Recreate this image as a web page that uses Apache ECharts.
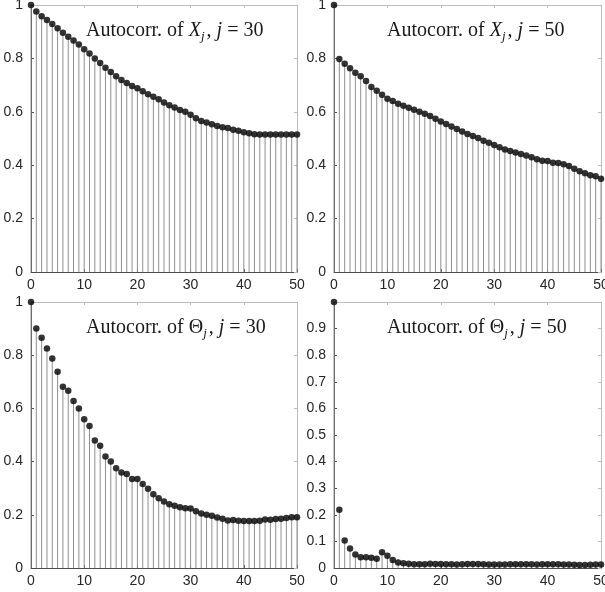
<!DOCTYPE html>
<html>
<head>
<meta charset="utf-8">
<script src="https://cdn.jsdelivr.net/npm/echarts@6/dist/echarts.min.js"></script>
<style>
html,body{margin:0;padding:0;background:#fff;}
#chart{width:605px;height:592px;}
</style>
</head>
<body>
<div id="chart"></div>
<script>
// ---- data ----
const lags = [0,1,2,3,4,5,6,7,8,9,10,11,12,13,14,15,16,17,18,19,20,21,22,23,24,25,26,27,28,29,30,31,32,33,34,35,36,37,38,39,40,41,42,43,44,45,46,47,48,49,50];

const acfX30 = [1.0,0.976,0.958,0.944,0.929,0.913,0.896,0.881,0.867,0.852,0.834,0.818,0.800,0.783,0.765,0.749,0.733,0.719,0.708,0.697,0.688,0.677,0.666,0.656,0.647,0.635,0.625,0.616,0.607,0.600,0.589,0.576,0.566,0.560,0.553,0.547,0.542,0.539,0.533,0.529,0.523,0.520,0.516,0.515,0.515,0.515,0.515,0.515,0.515,0.515,0.515];

const acfX50 = [1.0,0.798,0.780,0.763,0.746,0.733,0.715,0.693,0.679,0.664,0.649,0.640,0.630,0.623,0.615,0.608,0.600,0.593,0.584,0.574,0.564,0.554,0.545,0.536,0.526,0.517,0.509,0.502,0.492,0.484,0.476,0.467,0.459,0.453,0.448,0.442,0.436,0.430,0.422,0.417,0.416,0.409,0.408,0.404,0.397,0.387,0.377,0.370,0.362,0.359,0.349];

const acfT30 = [1.0,0.900,0.866,0.825,0.788,0.738,0.681,0.666,0.628,0.600,0.559,0.534,0.479,0.460,0.419,0.400,0.375,0.359,0.353,0.335,0.335,0.316,0.298,0.277,0.262,0.250,0.240,0.234,0.228,0.225,0.224,0.213,0.205,0.200,0.196,0.190,0.185,0.179,0.180,0.178,0.177,0.177,0.177,0.178,0.182,0.181,0.184,0.185,0.188,0.191,0.191];

const acfT50 = [1.0,0.219,0.103,0.073,0.051,0.040,0.040,0.039,0.035,0.059,0.046,0.030,0.021,0.018,0.016,0.014,0.014,0.014,0.016,0.015,0.015,0.014,0.014,0.013,0.014,0.015,0.015,0.015,0.014,0.013,0.013,0.013,0.013,0.014,0.014,0.014,0.014,0.014,0.013,0.014,0.014,0.014,0.014,0.013,0.013,0.012,0.011,0.011,0.012,0.013,0.013];

const panelTitles = [
  'Autocorr. of {it|X}{sub|j}, {it|j} = 30',
  'Autocorr. of {it|X}{sub|j}, {it|j} = 50',
  'Autocorr. of Θ{sub|j}, {it|j} = 30',
  'Autocorr. of Θ{sub|j}, {it|j} = 50'
];
const yIntervals = [0.2, 0.2, 0.2, 0.1];
const series4 = [acfX30, acfX50, acfT30, acfT50];

// ---- layout ----
const grids = [
  {left:31, top:5, width:266, height:267},
  {left:334, top:5, width:267, height:267},
  {left:31, top:302, width:266, height:266},
  {left:334, top:302, width:267, height:266}
];
const titlePos = [
  {left:86, top:19},
  {left:387, top:19},
  {left:86, top:316},
  {left:387, top:316}
];

const serif = "'Liberation Serif', 'DejaVu Serif', serif";
const sans = "'Liberation Sans', Arial, Helvetica, sans-serif";
const darkAxis = '#4d4d4d';
const lightAxis = '#bdbdbd';

const xAxes = [], yAxes = [], seriesList = [], titles = [];
for (let i = 0; i < 4; i++) {
  const yi = yIntervals[i];
  xAxes.push({
    gridIndex:i, type:'value', min:0, max:50, interval:10, position:'bottom',
    axisLine:{show:true, onZero:false, lineStyle:{color:darkAxis, width:1}},
    axisTick:{show:true, inside:true, length:3, lineStyle:{color:darkAxis}},
    axisLabel:{show:true, color:'#262626', fontSize:14, fontFamily:sans, margin:6, hideOverlap:false},
    splitLine:{show:false}
  });
  yAxes.push({
    gridIndex:i, type:'value', min:0, max:1, interval:yi, position:'left',
    axisLine:{show:true, onZero:false, lineStyle:{color:darkAxis, width:1}},
    axisTick:{show:true, inside:true, length:3, lineStyle:{color:darkAxis}},
    axisLabel:{show:true, color:'#262626', fontSize:14, fontFamily:sans, margin:8,
      showMaxLabel: i !== 3},
    splitLine:{show:false}
  });
}
for (let i = 0; i < 4; i++) {
  const yi = yIntervals[i];
  xAxes.push({
    gridIndex:i, type:'value', min:0, max:50, interval:10, position:'top',
    axisLine:{show:true, onZero:false, lineStyle:{color:lightAxis, width:1}},
    axisTick:{show:true, inside:true, length:3, lineStyle:{color:lightAxis}},
    axisLabel:{show:false}, splitLine:{show:false}
  });
  yAxes.push({
    gridIndex:i, type:'value', min:0, max:1, interval:yi, position:'right',
    axisLine:{show:true, onZero:false, lineStyle:{color:lightAxis, width:1}},
    axisTick:{show:true, inside:true, length:3, lineStyle:{color:lightAxis}},
    axisLabel:{show:false}, splitLine:{show:false}
  });
}

for (let i = 0; i < 4; i++) {
  const pts = lags.map((l, k) => [l, series4[i][k]]);
  seriesList.push({
    type:'custom', xAxisIndex:i, yAxisIndex:i, z:2, clip:false,
    data: pts,
    renderItem: function(params, api) {
      const x = api.value(0), y = api.value(1);
      const p0 = api.coord([x, 0]);
      const p1 = api.coord([x, y]);
      return {type:'line', shape:{x1:p0[0], y1:p0[1], x2:p1[0], y2:p1[1]},
        style:{stroke:'#8f8f8f', lineWidth:1}};
    },
    silent:true, animation:false
  });
  seriesList.push({
    type:'scatter', xAxisIndex:i, yAxisIndex:i, z:5,
    data: pts, symbol:'circle', symbolSize:6.5,
    itemStyle:{color:'#000'}, silent:true, animation:false
  });
  titles.push({
    text: panelTitles[i], left:titlePos[i].left, top:titlePos[i].top, padding:0,
    textStyle:{
      fontFamily:serif, fontSize:20, fontWeight:'normal', color:'#1a1a1a', lineHeight:24,
      rich:{
        it:{fontFamily:serif, fontStyle:'italic', fontSize:20, color:'#1a1a1a', lineHeight:24},
        sub:{fontFamily:serif, fontStyle:'italic', fontSize:13, color:'#1a1a1a', lineHeight:2, verticalAlign:'bottom', padding:[0,2,0,0]}
      }
    }
  });
}

const chart = echarts.init(document.getElementById('chart'), null, {renderer:'canvas'});
chart.setOption({
  backgroundColor:'#ffffff',
  animation:false,
  title: titles,
  grid: grids.map(g => Object.assign({containLabel:false, outerBoundsMode:'none'}, g)),
  xAxis: xAxes,
  yAxis: yAxes,
  series: seriesList
});
</script>
</body>
</html>
